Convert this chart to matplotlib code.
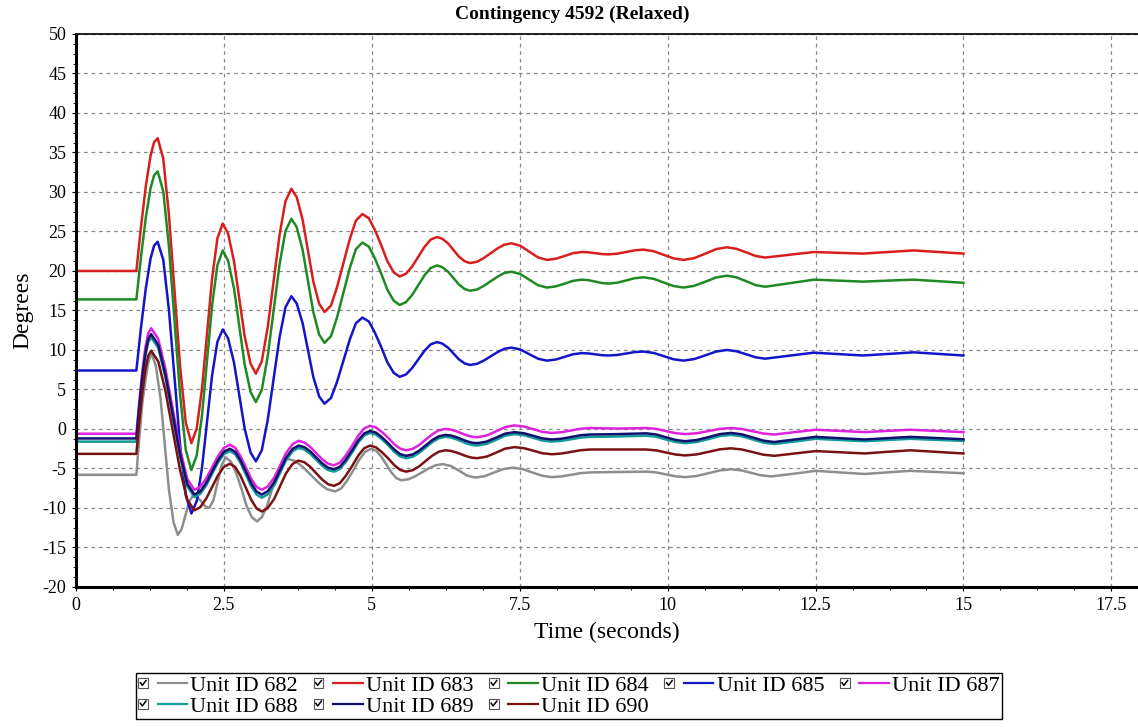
import matplotlib
matplotlib.use("Agg")
import matplotlib.pyplot as plt
from matplotlib.ticker import MultipleLocator
from matplotlib.legend_handler import HandlerBase
from matplotlib.patches import Rectangle
from matplotlib.lines import Line2D

plt.rcParams['font.family'] = ['Liberation Serif', 'DejaVu Serif']
plt.rcParams['axes.unicode_minus'] = False

# time axis for units 683, 684, 685 (seconds)
t_upper = [0, 1.02, 1.10, 1.18, 1.26, 1.32, 1.38,
           1.475, 1.57, 1.665, 1.76, 1.855, 1.95,
           2.04, 2.13, 2.215, 2.30, 2.39, 2.48,
           2.57, 2.67, 2.76, 2.85, 2.95, 3.04,
           3.14, 3.24, 3.34, 3.44, 3.54, 3.64,
           3.73, 3.83, 3.92, 4.01, 4.11, 4.20,
           4.31, 4.41, 4.52, 4.63, 4.73, 4.84,
           4.95, 5.05, 5.16, 5.26, 5.37, 5.47,
           5.575, 5.68, 5.785, 5.89, 5.995, 6.10,
           6.19, 6.29, 6.38, 6.47, 6.57, 6.66,
           6.78, 6.89, 7.01, 7.13, 7.24, 7.36,
           7.51, 7.66, 7.81, 7.96,
           8.11, 8.26, 8.40, 8.55,
           8.66, 8.78, 8.89, 9.00,
           9.15, 9.30, 9.44, 9.59,
           9.76, 9.93, 10.10, 10.27,
           10.45, 10.64, 10.82, 11.00,
           11.16, 11.33, 11.49, 11.65,
           12.06, 12.47, 12.88, 13.30, 13.73, 14.16, 14.58, 15.00]

unit_683 = [20, 20, 25.7, 30.75, 34.6, 36.3, 36.8,
            34.2, 27.15, 17.5, 7.85, 0.79, -1.8,
            0.06, 5.15, 12.1, 19.05, 24.14, 26.0,
            24.73, 21.25, 16.5, 11.75, 8.27, 7.0,
            8.57, 12.85, 18.7, 24.55, 28.83, 30.4,
            29.35, 26.5, 22.6, 18.7, 15.85, 14.8,
            15.63, 17.9, 21.0, 24.1, 26.37, 27.2,
            26.67, 25.22, 23.25, 21.27, 19.83, 19.3,
            19.64, 20.55, 21.8, 23.05, 23.97, 24.3,
            24.08, 23.48, 22.65, 21.83, 21.22, 21.0,
            21.17, 21.63, 22.25, 22.88, 23.33, 23.5,
            23.19, 22.45, 21.71, 21.4,
            21.55, 21.9, 22.25, 22.4,
            22.36, 22.25, 22.14, 22.1,
            22.19, 22.4, 22.61, 22.7,
            22.51, 22.05, 21.59, 21.4,
            21.63, 22.2, 22.77, 23.0,
            22.81, 22.35, 21.89, 21.7,
            22.05, 22.4, 22.3, 22.2, 22.4, 22.6, 22.4, 22.2]

unit_684 = [16.4, 16.4, 21.9, 26.77, 30.49, 32.11, 32.6,
            30.07, 23.15, 13.7, 4.25, -2.67, -5.2,
            -3.34, 1.75, 8.7, 15.65, 20.74, 22.6,
            21.31, 17.8, 13.0, 8.2, 4.69, 3.4,
            4.95, 9.2, 15.0, 20.8, 25.05, 26.6,
            25.55, 22.67, 18.75, 14.82, 11.95, 10.9,
            11.75, 14.08, 17.25, 20.43, 22.75, 23.6,
            23.07, 21.62, 19.65, 17.67, 16.23, 15.7,
            16.04, 16.95, 18.2, 19.45, 20.37, 20.7,
            20.49, 19.9, 19.1, 18.3, 17.71, 17.5,
            17.66, 18.1, 18.7, 19.3, 19.74, 19.9,
            19.61, 18.9, 18.19, 17.9,
            18.05, 18.4, 18.75, 18.9,
            18.83, 18.65, 18.47, 18.4,
            18.52, 18.8, 19.08, 19.2,
            19.01, 18.55, 18.09, 17.9,
            18.12, 18.65, 19.18, 19.4,
            19.2, 18.7, 18.2, 18.0,
            18.45, 18.9, 18.78, 18.65, 18.78, 18.9, 18.7, 18.5]

unit_685 = [7.4, 7.4, 12.94, 17.83, 21.58, 23.21, 23.7,
            21.4, 15.1, 6.5, -2.1, -8.4, -10.7,
            -9.14, -4.87, 0.95, 6.78, 11.04, 12.6,
            11.48, 8.42, 4.25, 0.07, -2.98, -4.1,
            -2.7, 1.13, 6.35, 11.58, 15.4, 16.8,
            15.89, 13.4, 10.0, 6.6, 4.11, 3.2,
            3.93, 5.93, 8.65, 11.38, 13.37, 14.1,
            13.6, 12.22, 10.35, 8.47, 7.1, 6.6,
            6.89, 7.7, 8.8, 9.9, 10.71, 11.0,
            10.81, 10.28, 9.55, 8.83, 8.29, 8.1,
            8.25, 8.65, 9.2, 9.75, 10.15, 10.3,
            10.06, 9.47, 8.89, 8.65,
            8.79, 9.13, 9.46, 9.6,
            9.56, 9.45, 9.34, 9.3,
            9.37, 9.55, 9.73, 9.8,
            9.63, 9.23, 8.82, 8.65,
            8.85, 9.33, 9.8, 10.0,
            9.84, 9.45, 9.06, 8.9,
            9.28, 9.66, 9.48, 9.3, 9.5, 9.7, 9.5, 9.3]

# time axis for units 687, 688, 689, 690
t_lower = [0, 1.02, 1.07, 1.12, 1.17, 1.22, 1.27,
           1.39, 1.51, 1.635, 1.76, 1.88, 2.00,
           2.10, 2.20, 2.30, 2.40, 2.50, 2.60,
           2.69, 2.78, 2.87, 2.96, 3.05, 3.14,
           3.24, 3.35, 3.45, 3.55, 3.66, 3.76,
           3.86, 3.96, 4.06, 4.16, 4.26, 4.36,
           4.46, 4.56, 4.67, 4.77, 4.87, 4.97,
           5.07, 5.17, 5.28, 5.38, 5.48, 5.58,
           5.69, 5.80, 5.91, 6.02, 6.13, 6.24,
           6.33, 6.42, 6.51, 6.60, 6.69, 6.78,
           6.94, 7.10, 7.25, 7.41,
           7.57, 7.73, 7.88, 8.04,
           8.20, 8.37, 8.53, 8.69,
           8.92, 9.15, 9.40, 9.64,
           9.81, 9.97, 10.14, 10.30,
           10.49, 10.69, 10.88, 11.07,
           11.25, 11.44, 11.62, 11.80,
           12.15, 12.50, 12.92, 13.33, 13.70, 14.10, 14.55, 15.00]

unit_687 = [-0.6, -0.6, 3.54, 7.28, 10.21, 12.08, 12.75,
            11.38, 7.64, 2.52, -2.59, -6.33, -7.7,
            -7.32, -6.27, -4.85, -3.42, -2.38, -2.0,
            -2.38, -3.43, -4.85, -6.28, -7.32, -7.7,
            -7.28, -6.15, -4.6, -3.05, -1.92, -1.5,
            -1.71, -2.28, -3.05, -3.83, -4.39, -4.6,
            -4.26, -3.35, -2.1, -0.85, 0.07, 0.4,
            0.19, -0.38, -1.15, -1.93, -2.49, -2.7,
            -2.52, -2.03, -1.35, -0.68, -0.18, 0.0,
            -0.07, -0.26, -0.53, -0.79, -0.98, -1.05,
            -0.83, -0.3, 0.23, 0.45,
            0.31, -0.03, -0.36, -0.5,
            -0.41, -0.19, 0.03, 0.12,
            0.08, 0.05, 0.08, 0.12,
            0.01, -0.27, -0.54, -0.65,
            -0.54, -0.27, 0.01, 0.12,
            0.0, -0.29, -0.58, -0.7,
            -0.4, -0.1, -0.25, -0.4, -0.25, -0.1, -0.25, -0.4]

unit_688 = [-1.6, -1.6, 2.49, 6.19, 9.09, 10.94, 11.6,
            10.25, 6.55, 1.5, -3.55, -7.25, -8.6,
            -8.21, -7.15, -5.7, -4.25, -3.19, -2.8,
            -3.2, -4.28, -5.75, -7.23, -8.3, -8.7,
            -8.28, -7.12, -5.55, -3.97, -2.82, -2.4,
            -2.6, -3.15, -3.9, -4.65, -5.2, -5.4,
            -5.07, -4.17, -2.95, -1.72, -0.83, -0.5,
            -0.71, -1.3, -2.1, -2.9, -3.49, -3.7,
            -3.52, -3.03, -2.35, -1.68, -1.18, -1.0,
            -1.07, -1.28, -1.55, -1.83, -2.03, -2.1,
            -1.89, -1.38, -0.86, -0.65,
            -0.79, -1.13, -1.46, -1.6,
            -1.51, -1.3, -1.09, -1.0,
            -0.98, -0.95, -0.9, -0.85,
            -0.99, -1.33, -1.66, -1.8,
            -1.65, -1.28, -0.9, -0.75,
            -0.92, -1.33, -1.73, -1.9,
            -1.58, -1.25, -1.4, -1.55, -1.4, -1.25, -1.38, -1.5]

unit_689 = [-1.2, -1.2, 2.89, 6.59, 9.49, 11.34, 12.0,
            10.64, 6.92, 1.85, -3.23, -6.94, -8.3,
            -7.91, -6.85, -5.4, -3.95, -2.89, -2.5,
            -2.89, -3.95, -5.4, -6.85, -7.91, -8.3,
            -7.88, -6.75, -5.2, -3.65, -2.52, -2.1,
            -2.3, -2.85, -3.6, -4.35, -4.9, -5.1,
            -4.78, -3.89, -2.67, -1.46, -0.57, -0.25,
            -0.46, -1.04, -1.83, -2.61, -3.19, -3.4,
            -3.22, -2.74, -2.08, -1.41, -0.93, -0.75,
            -0.82, -1.01, -1.28, -1.54, -1.73, -1.8,
            -1.6, -1.1, -0.6, -0.4,
            -0.54, -0.87, -1.19, -1.33,
            -1.24, -1.02, -0.79, -0.7,
            -0.68, -0.65, -0.6, -0.55,
            -0.7, -1.05, -1.4, -1.55,
            -1.4, -1.03, -0.65, -0.5,
            -0.67, -1.08, -1.48, -1.65,
            -1.33, -1.0, -1.17, -1.33, -1.17, -1.0, -1.15, -1.3]

unit_690 = [-3.15, -3.15, 0.9, 4.55, 7.42, 9.25, 9.9,
            8.55, 4.85, -0.2, -5.25, -8.95, -10.3,
            -9.9, -8.82, -7.35, -5.87, -4.8, -4.4,
            -4.81, -5.91, -7.43, -8.94, -10.04, -10.45,
            -10.02, -8.84, -7.22, -5.61, -4.43, -4.0,
            -4.21, -4.8, -5.6, -6.4, -6.99, -7.2,
            -6.86, -5.92, -4.65, -3.37, -2.44, -2.1,
            -2.32, -2.93, -3.75, -4.58, -5.19, -5.4,
            -5.22, -4.73, -4.05, -3.38, -2.88, -2.7,
            -2.77, -2.95, -3.2, -3.45, -3.63, -3.7,
            -3.5, -3.0, -2.5, -2.3,
            -2.43, -2.75, -3.07, -3.2,
            -3.11, -2.9, -2.69, -2.6,
            -2.6, -2.6, -2.6, -2.6,
            -2.71, -2.98, -3.24, -3.35,
            -3.22, -2.9, -2.58, -2.45,
            -2.59, -2.93, -3.26, -3.4,
            -3.1, -2.8, -2.95, -3.1, -2.9, -2.7, -2.9, -3.1]

# unit 682 has its own sample times
t_682 = [0, 1.02, 1.07, 1.12, 1.18, 1.23, 1.28,
         1.35, 1.43, 1.50, 1.57, 1.65, 1.72,
         1.785, 1.85, 1.915, 1.98,
         2.05, 2.12, 2.18, 2.25,
         2.32, 2.39, 2.46, 2.53,
         2.62, 2.71, 2.80, 2.88, 2.97, 3.06,
         3.14, 3.23, 3.31, 3.39, 3.48, 3.56,
         3.70, 3.83, 3.97, 4.11, 4.24, 4.38,
         4.48, 4.58, 4.69, 4.79, 4.89, 4.99,
         5.075, 5.16, 5.245, 5.33, 5.415, 5.50,
         5.62, 5.73, 5.85, 5.97, 6.08, 6.20,
         6.34, 6.48, 6.61, 6.75,
         6.91, 7.06, 7.22, 7.38,
         7.55, 7.71, 7.88, 8.04,
         8.20, 8.37, 8.53, 8.69,
         9.15, 9.64,
         9.81, 9.97, 10.14, 10.30,
         10.49, 10.69, 10.88, 11.07,
         11.24, 11.41, 11.58, 11.75,
         12.15, 12.50, 12.92, 13.33, 13.70, 14.10, 14.55, 15.00]

unit_682 = [-5.8, -5.8, -1.06, 3.23, 6.59, 8.74, 9.5,
            7.97, 3.77, -1.95, -7.68, -11.87, -13.4,
            -12.67, -10.9, -9.13, -8.4,
            -8.63, -9.2, -9.77, -10.0,
            -9.08, -6.85, -4.62, -3.6,
            -4.14, -5.63, -7.65, -9.68, -11.16, -11.7,
            -11.17, -9.71, -7.72, -5.74, -4.28, -3.75,
            -4.03, -4.79, -5.83, -6.86, -7.62, -7.9,
            -7.54, -6.55, -5.2, -3.85, -2.86, -2.5,
            -2.77, -3.5, -4.5, -5.5, -6.23, -6.5,
            -6.36, -5.99, -5.48, -4.96, -4.59, -4.45,
            -4.7, -5.3, -5.9, -6.15,
            -5.97, -5.53, -5.08, -4.9,
            -5.08, -5.5, -5.92, -6.1,
            -6.01, -5.8, -5.59, -5.5,
            -5.45, -5.4,
            -5.5, -5.75, -6.0, -6.1,
            -5.95, -5.6, -5.25, -5.1,
            -5.23, -5.55, -5.87, -6.0,
            -5.65, -5.3, -5.5, -5.7, -5.5, -5.3, -5.45, -5.6]

labels = ['Unit ID 682', 'Unit ID 683', 'Unit ID 684', 'Unit ID 685',
          'Unit ID 687', 'Unit ID 688', 'Unit ID 689', 'Unit ID 690']
colors = ['#8e8e8e', '#d81e1e', '#1f8a24', '#1414c8',
          '#de22de', '#159a9a', '#12126e', '#7a1212']
series = [(t_682, unit_682), (t_upper, unit_683), (t_upper, unit_684), (t_upper, unit_685),
          (t_lower, unit_687), (t_lower, unit_688), (t_lower, unit_689), (t_lower, unit_690)]


class CheckedLine(HandlerBase):
    # checkbox followed by a short line sample
    def create_artists(self, legend, orig_handle, xdescent, ydescent,
                       width, height, fontsize, trans):
        x0 = -xdescent
        cy = -ydescent + height / 2
        box = height * 0.62
        rect = Rectangle((x0, cy - box / 2), box, box, facecolor='white',
                         edgecolor='#555555', lw=0.8, transform=trans)
        tick = Line2D([x0 + box * 0.22, x0 + box * 0.42, x0 + box * 0.8],
                      [cy + box * 0.05, cy - box * 0.22, cy + box * 0.28],
                      color='black', lw=1.1, transform=trans)
        line = Line2D([x0 + box + width * 0.2, x0 + width], [cy, cy],
                      color=orig_handle.get_color(), lw=1.6, transform=trans)
        return [rect, tick, line]


fig = plt.figure(figsize=(11.38, 7.27), dpi=100)
ax = fig.add_axes([0.0668, 0.1926, 0.9332, 0.7607])

handles = []
for (t, v), c, lab in zip(series, colors, labels):
    h, = ax.plot(t, v, color=c, lw=1.8, label=lab)
    handles.append(h)

ax.set_xlim(0, 17.95)
ax.set_ylim(-20, 50)
ax.xaxis.set_major_locator(MultipleLocator(2.5))
ax.xaxis.set_minor_locator(MultipleLocator(0.625))
ax.yaxis.set_major_locator(MultipleLocator(5))
ax.yaxis.set_minor_locator(MultipleLocator(1.25))
ax.set_xticks([0, 2.5, 5, 7.5, 10, 12.5, 15, 17.5])
ax.set_xticklabels(['0', '2.5', '5', '7.5', '10', '12.5', '15', '17.5'])
ax.tick_params(which='major', direction='out', length=3, width=0.8, labelsize=13, pad=4)
ax.tick_params(which='minor', direction='out', length=2, width=0.6)
ax.grid(True, which='major', color='#8a8a8a', linestyle=(0, (3, 3)), linewidth=0.9)
ax.set_axisbelow(True)

ax.spines['left'].set_linewidth(2.2)
ax.spines['bottom'].set_linewidth(2.2)
ax.spines['top'].set_linewidth(1.2)
ax.spines['right'].set_visible(False)

ax.set_xlabel('Time (seconds)', fontsize=17, va='center')
ax.xaxis.set_label_coords(0.5, -0.0814)
ax.set_ylabel('Degrees', fontsize=17, va='center')
ax.yaxis.set_label_coords(-0.05, 0.5)

fig.text(0.503, 1 - 14 / 727, 'Contingency 4592 (Relaxed)', ha='center', va='center',
         fontsize=14, fontweight='bold')

# legend fills column by column, so reorder to read across the rows
order = [0, 5, 1, 6, 2, 7, 3, 4]
leg = fig.legend([handles[i] for i in order], [labels[i] for i in order],
                 loc='center', bbox_to_anchor=(0.5, 1 - 696 / 727),
                 ncol=5, fontsize=16, handler_map={Line2D: CheckedLine()},
                 handlelength=2.2, handletextpad=0.15, columnspacing=0.7,
                 labelspacing=0.0, borderpad=0.12, fancybox=False, framealpha=1,
                 edgecolor='black')
leg.get_frame().set_linewidth(1.0)

fig.savefig('out.png', dpi=100)
